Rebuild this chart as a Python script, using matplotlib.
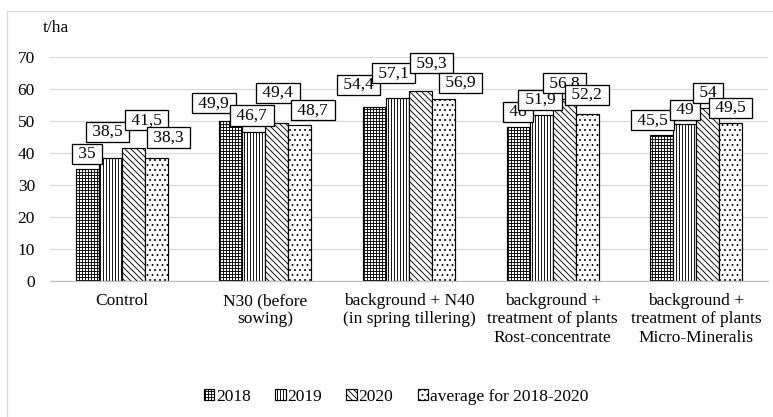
import matplotlib
matplotlib.use("Agg")
import matplotlib.pyplot as plt
import numpy as np
from matplotlib.lines import Line2D

# ---- data -------------------------------------------------------------
categories = [
    "Control",
    "N30 (before\nsowing)",
    "background + N40\n(in spring tillering)",
    "background +\ntreatment of plants\nRost-concentrate",
    "background +\ntreatment of plants\nMicro-Mineralis",
]
series_names = ["2018", "2019", "2020", "average for 2018-2020"]
yield_2018 = [35.0, 49.9, 54.4, 48.0, 45.5]
yield_2019 = [38.5, 46.7, 57.1, 51.9, 49.0]
yield_2020 = [41.5, 49.4, 59.3, 56.8, 54.0]
yield_avg = [38.3, 48.7, 56.9, 52.2, 49.5]
y_ticks = [0, 10, 20, 30, 40, 50, 60, 70]
unit_label = "t/ha"

# ---- styling ------------------------------------------------------------
W, H, DPI = 773, 417, 90


def pt(px):
    """Convert a pixel size to points at the output resolution."""
    return px * 72.0 / DPI


plt.rcParams['font.family'] = ['Liberation Serif', 'DejaVu Serif']
plt.rcParams['hatch.linewidth'] = pt(0.9)

hatches = ["+++++", "|||||", "\\" * 5, "..."]
# label callout nudges (dx, gap above bar) in pixels, per category / series
label_nudge = [
    [(0, 5), (-3, 16), (13, 18), (12, 11)],
    [(-17, 8), (-2, 6), (1, 20), (13, 5)],
    [(-16, 12), (-4, 15), (11, 18), (17, 6)],
    [(0, 5), (-1, 5), (0, 6), (0, 9)],
    [(-9, 5), (0, 4), (0, 5), (0, 5)],
]

fig = plt.figure(figsize=(W / DPI, H / DPI), dpi=DPI)
ax = fig.add_axes([50 / W, 1 - 281 / H, (768 - 50) / W, (281 - 57) / H])

series = [yield_2018, yield_2019, yield_2020, yield_avg]
x = np.arange(len(categories))
bw = 0.16
offsets = (np.arange(len(series)) - (len(series) - 1) / 2) * bw

for i, (vals, name, h) in enumerate(zip(series, series_names, hatches)):
    ax.bar(x + offsets[i], vals, bw, facecolor="white", edgecolor="black",
           linewidth=pt(1.2), hatch=h, label=name, zorder=2)

fs = pt(17.4)
for i, vals in enumerate(series):
    for j, v in enumerate(vals):
        dx, dy = label_nudge[j][i]
        txt = " " + f"{v:g}".replace(".", ",") + " "
        ax.annotate(txt, xy=(x[j] + offsets[i], v), xytext=(pt(dx), pt(dy + 2)),
                    textcoords="offset points", ha="center", va="bottom",
                    fontsize=fs, zorder=10 + i,
                    bbox=dict(boxstyle="square,pad=0.12", facecolor="white",
                              edgecolor="black", linewidth=pt(1.3)))

ax.set_ylim(0, 70)
ax.set_xlim(-0.5, len(categories) - 0.5)
ax.set_yticks(y_ticks)
ax.set_xticks(x)
ax.set_xticklabels(categories, fontsize=fs, linespacing=1.2)
ax.tick_params(axis="y", length=0, pad=pt(15), labelsize=fs)
ax.tick_params(axis="x", length=0, pad=pt(12))
ax.grid(axis="y", color="#d9d9d9", linewidth=pt(1.2), zorder=0)
ax.set_axisbelow(True)
for s in ["top", "right", "left"]:
    ax.spines[s].set_visible(False)
ax.spines["bottom"].set_color("#bfbfbf")
ax.spines["bottom"].set_linewidth(pt(1.2))

fig.text(43 / W, 1 - 28 / H, unit_label, fontsize=fs, ha="left", va="center")

fig.legend(loc="center", bbox_to_anchor=(396 / W, 1 - 397 / H), ncol=4,
           frameon=False, fontsize=fs, handlelength=0.6, handleheight=0.6,
           handletextpad=0.1, columnspacing=1.4)

# chart frame
fig.add_artist(Line2D([7 / W, 1], [1 - 11 / H, 1 - 11 / H], color="#d9d9d9", lw=pt(1.2),
                      transform=fig.transFigure))
fig.add_artist(Line2D([7 / W, 7 / W], [0, 1 - 11 / H], color="#d9d9d9", lw=pt(1.2),
                      transform=fig.transFigure))

fig.savefig("out.png", dpi=DPI)
